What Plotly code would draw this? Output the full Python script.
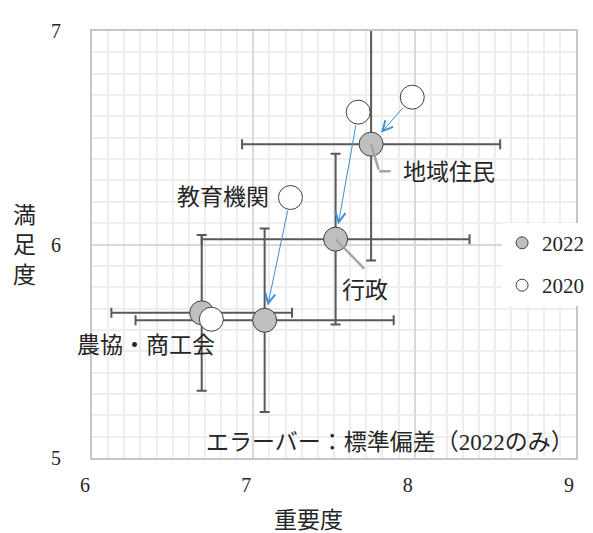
import plotly.graph_objects as go

# データ（2022: 灰色、2020: 白）
groups = ['地域住民', '行政', '教育機関', '農協・商工会']
imp_2022 = [7.73, 7.51, 7.07, 6.68]
sat_2022 = [6.47, 6.025, 5.645, 5.68]
sd_imp_2022 = [0.80, 0.83, 0.80, 0.56]
sd_sat_2022 = [0.545, 0.40, 0.43, 0.365]
imp_2020 = [7.985, 7.65, 7.23, 6.74]
sat_2020 = [6.69, 6.62, 6.22, 5.65]

FONT = 'Liberation Serif, Noto Sans CJK JP, serif'
TXT = '#262626'
ERR = '#595959'

fig = go.Figure()

fig.add_trace(go.Scatter(
    x=imp_2022, y=sat_2022, mode='markers', name='2022', showlegend=False,
    marker=dict(size=24, color='#bfbfbf', line=dict(color='#404040', width=1)),
    error_x=dict(type='data', array=sd_imp_2022, color=ERR, thickness=2, width=5),
    error_y=dict(type='data', array=sd_sat_2022, color=ERR, thickness=2, width=5),
))
fig.add_trace(go.Scatter(
    x=imp_2020, y=sat_2020, mode='markers', name='2020', showlegend=False,
    marker=dict(size=24, color='white', line=dict(color='#404040', width=1)),
))

# 凡例用
fig.add_trace(go.Scatter(x=[None], y=[None], mode='markers', name='2022', legendgroup='a',
                         marker=dict(size=12, color='#bfbfbf', line=dict(color='#404040', width=1))))
fig.add_trace(go.Scatter(x=[None], y=[None], mode='markers', name='2020', legendgroup='b',
                         marker=dict(size=12, color='white', line=dict(color='#404040', width=1))))

# 2020 -> 2022 の矢印（農協・商工会は重なるので無し）
for i in range(3):
    fig.add_annotation(x=imp_2022[i], y=sat_2022[i], ax=imp_2020[i], ay=sat_2020[i],
                       xref='x', yref='y', axref='x', ayref='y', text='',
                       showarrow=True, arrowhead=5, arrowsize=2, arrowwidth=1,
                       arrowcolor='#3d8fd8', standoff=15, startstandoff=12)

# ラベル
lab = dict(showarrow=False, font=dict(size=23), xanchor='center', yanchor='middle')
fig.add_annotation(x=imp_2022[0], y=sat_2022[0], text='地域住民', xshift=78, yshift=-28, **lab)
fig.add_annotation(x=imp_2022[1], y=sat_2022[1], text='行政', xshift=29, yshift=-51, **lab)
fig.add_annotation(x=imp_2020[2], y=sat_2020[2], text='教育機関', xshift=-67, yshift=0, **lab)
fig.add_annotation(x=imp_2022[3], y=sat_2022[3], text='農協・商工会', xshift=-56, yshift=-33, **lab)

# 引き出し線
lead = dict(showarrow=True, arrowhead=0, arrowwidth=2.5, arrowcolor='#a6a6a6', text='')
fig.add_annotation(x=imp_2022[0], y=sat_2022[0], ax=8, ay=27, **lead)
fig.add_annotation(x=imp_2022[0], y=sat_2022[0], ax=13, ay=0, xshift=8, yshift=-27, **lead)
fig.add_annotation(x=imp_2022[1], y=sat_2022[1], ax=30, ay=31, **lead)

# 軸タイトル・注記
fig.add_annotation(xref='paper', yref='paper', x=0.447, y=-0.146, text='重要度',
                   xanchor='center', yanchor='middle', showarrow=False, font=dict(size=23))
fig.add_annotation(xref='paper', yref='paper', x=-0.139, y=0.497, text='満<br>足<br>度',
                   xanchor='center', yanchor='middle', showarrow=False, font=dict(size=23))
fig.add_annotation(xref='paper', yref='paper', x=1.0, y=0.037, xanchor='right', yanchor='middle',
                   text='エラーバー：標準偏差（2022のみ）', showarrow=False, font=dict(size=23))

axis_common = dict(
    showgrid=True, gridcolor='#d9d9d9', gridwidth=1.5,
    minor=dict(dtick=0.1, showgrid=True, gridcolor='#eeeeee', gridwidth=2),
    showline=True, linecolor='#c6c6c6', linewidth=2, mirror=True,
    zeroline=False, ticks='', dtick=1,
    tickfont=dict(size=20, family=FONT, color=TXT),
)
fig.update_xaxes(range=[6, 9], tick0=6, ticklabelshift=-7, ticklabelstandoff=8, **axis_common)
fig.update_yaxes(range=[5, 7], tick0=5, ticklabelstandoff=25, **axis_common)

fig.update_layout(
    width=593, height=533,
    margin=dict(l=84, r=21, t=13, b=83),
    paper_bgcolor='white', plot_bgcolor='white',
    font=dict(family=FONT, color=TXT, size=20),
    showlegend=True,
    legend=dict(x=1.027, y=0.551, xanchor='right', yanchor='top', bgcolor='white',
                font=dict(size=21), tracegroupgap=12, itemwidth=30),
)

fig.write_html('out.html')
